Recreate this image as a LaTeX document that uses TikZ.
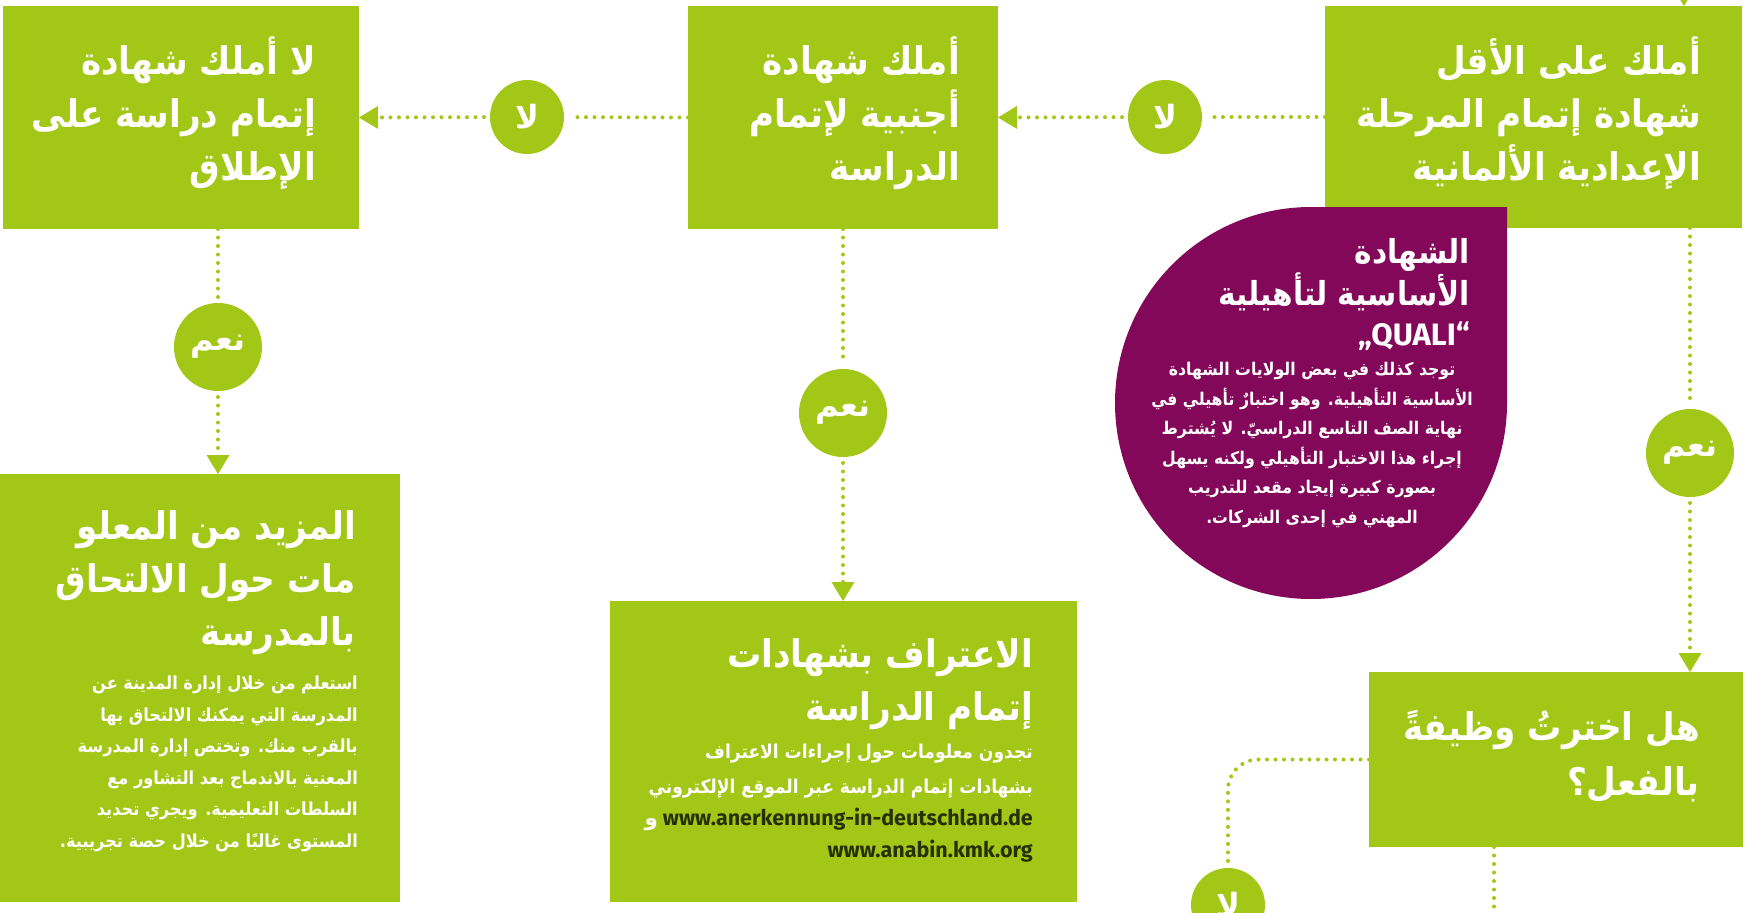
\documentclass[tikz,border=0pt]{standalone}
\usepackage{fontspec}
\usetikzlibrary{arrows.meta}
\TeXXeTstate=1
\newfontfamily\arabicfont[Script=Arabic]{DejaVu Sans}
\newfontfamily\arabicnarrow[Script=Arabic, BoldFont={DejaVu Sans Condensed Bold}]{DejaVu Sans Condensed}
\newfontfamily\latinfont{Fira Sans}
\definecolor{kgreen}{RGB}{163,199,22}
\definecolor{quali}{RGB}{132,8,90}
\definecolor{urltext}{RGB}{40,48,0}
\newcommand{\arline}[1]{\beginR #1\endR}

\begin{document}
\begin{tikzpicture}[x=1pt, y=-1pt,
    box/.style={fill=kgreen, anchor=north west, inner sep=0pt, outer sep=0pt},
    answer/.style={circle, fill=kgreen, inner sep=0pt, outer sep=0pt, text=white,
      font=\arabicfont\bfseries\fontsize{32}{34}\selectfont},
    head/.style={anchor=base east, align=right, inner sep=0pt, text=white,
      font=\arabicnarrow\bfseries\fontsize{38}{53}\selectfont},
    body/.style={anchor=base east, align=right, inner sep=0pt, text=white,
      font=\arabicnarrow\bfseries\fontsize{18}{31.5}\selectfont},
    dots/.style={draw=kgreen, line width=4pt, line cap=round, dash pattern=on 0pt off 8.5pt},
    arr/.style={-{Triangle[length=19pt, width=23pt, line width=0pt]}}]

  \useasboundingbox (0,0) rectangle (1757,913);
  \clip (0,0) rectangle (1757,913);

  % boxes
  \node[box, minimum width=356pt, minimum height=223pt] (notany) at (3,6) {};
  \node[box, minimum width=310pt, minimum height=223pt] (foreign) at (688,6) {};
  \node[box, minimum width=417pt, minimum height=222pt] (german) at (1325,6) {};
  \node[box, minimum width=400pt, minimum height=428pt] (moreinfo) at (0,474) {};
  \node[box, minimum width=467pt, minimum height=301pt] (recog) at (610,601) {};
  \node[box, minimum width=374pt, minimum height=175pt] (job) at (1369,672) {};

  % Quali drop
  \fill[quali] (1311,207) -- (1507,207) -- (1507,403)
    arc[start angle=0, end angle=270, radius=196] -- cycle;

  % answers
  \node[answer, minimum size=74pt] (no1) at (527,117) {\arline{لا}};
  \node[answer, minimum size=74pt] (no2) at (1165,117) {\arline{لا}};
  \node[answer, minimum size=88pt] (yes1) at (218,347) {\arline{نعم}};
  \node[answer, minimum size=88pt] (yes2) at (843,413) {\arline{نعم}};
  \node[answer, minimum size=88pt] (yes3) at (1690,453) {\arline{نعم}};
  \node[answer, minimum size=74pt] (no3) at (1228,905) {\arline{لا}};

  % texts
  \node[head] (notanyT) at (316,180) {\arline{لا أملك شهادة}\\ \arline{إتمام دراسة على}\\ \arline{الإطلاق}};
  \node[head] (foreignT) at (960,180) {\arline{أملك شهادة}\\ \arline{أجنبية لإتمام}\\ \arline{الدراسة}};
  \node[head] (germanT) at (1701,180) {\arline{أملك على الأقل}\\ \arline{شهادة إتمام المرحلة}\\ \arline{الإعدادية الألمانية}};
  \node[head, font=\arabicnarrow\bfseries\fontsize{33}{40}\selectfont] (qualiT) at (1470,345)
    {\arline{الشهادة}\\ \arline{الأساسية لتأهيلية}\\ {\latinfont\bfseries\fontsize{31}{40}\selectfont „QUALI“}};
  \node[body, anchor=base, align=center, font=\arabicnarrow\bfseries\fontsize{17.5}{29.5}\selectfont] (qualiB) at (1312,523)
    {\arline{توجد كذلك في بعض الولايات الشهادة}\\ \arline{الأساسية التأهيلية. وهو اختبارٌ تأهيلي في}\\
     \arline{نهاية الصف التاسع الدراسيّ. لا يُشترط}\\ \arline{إجراء هذا الاختبار التأهيلي ولكنه يسهل}\\
     \arline{بصورة كبيرة إيجاد مقعد للتدريب}\\ \arline{المهني في إحدى الشركات.}};
  \node[head] (moreinfoT) at (356,645) {\arline{المزيد من المعلو}\\ \arline{مات حول الالتحاق}\\ \arline{بالمدرسة}};
  \node[body] (moreinfoB) at (358,847)
    {\arline{استعلم من خلال إدارة المدينة عن}\\ \arline{المدرسة التي يمكنك الالتحاق بها}\\
     \arline{بالقرب منك. وتختص إدارة المدرسة}\\ \arline{المعنية بالاندماج بعد التشاور مع}\\
     \arline{السلطات التعليمية. ويجري تحديد}\\ \arline{المستوى غالبًا من خلال حصة تجريبية.}};
  \node[head] (recogT) at (1033,720) {\arline{الاعتراف بشهادات}\\ \arline{إتمام الدراسة}};
  \node[body, font=\arabicnarrow\bfseries\fontsize{19}{35}\selectfont] (recogB) at (1033,793)
    {\arline{تجدون معلومات حول إجراءات الاعتراف}\\ \arline{بشهادات إتمام الدراسة عبر الموقع  الإلكتروني}};
  \node[body, text=urltext, font=\latinfont\bfseries\fontsize{21.5}{32}\selectfont] (recogU) at (1033,857)
    {{\color{white}\arabicfont و}\ www.anerkennung-in-deutschland.de\\ www.anabin.kmk.org};
  \node[head, font=\arabicnarrow\bfseries\fontsize{38}{55}\selectfont] (jobT) at (1700,795) {\arline{هل اخترتُ وظيفةً}\\ \arline{بالفعل؟}};

  % connectors
  \draw[dots, arr, shorten <=6pt] (no1) -- (notany.east);
  \draw[dots, shorten >=6pt] (foreign.west) -- (no1);
  \draw[dots, arr, shorten <=6pt] (no2) -- (foreign.east);
  \draw[dots, shorten >=6pt] (german.west) -- (no2);
  \draw[dots, shorten >=6pt] (notany.south -| yes1) -- (yes1);
  \draw[dots, arr, shorten <=6pt] (yes1) -- (moreinfo.north -| yes1);
  \draw[dots, shorten >=6pt] (foreign.south -| yes2) -- (yes2);
  \draw[dots, arr, shorten <=6pt] (yes2) -- (recog.north -| yes2);
  \draw[dots, shorten >=6pt] (german.south -| yes3) -- (yes3);
  \draw[dots, arr, shorten <=6pt] (yes3) -- (job.north -| yes3);
  \draw[dots, rounded corners=30pt, shorten >=6pt] (job.west) -| (no3);
  \coordinate (offpage) at (1494,930);
  \draw[dots] (job.south -| offpage) -- (offpage);
  \coordinate (fromabove) at (1684,-30);
  \draw[dots, arr] (fromabove) -- (german.north -| fromabove);

\end{tikzpicture}
\end{document}
